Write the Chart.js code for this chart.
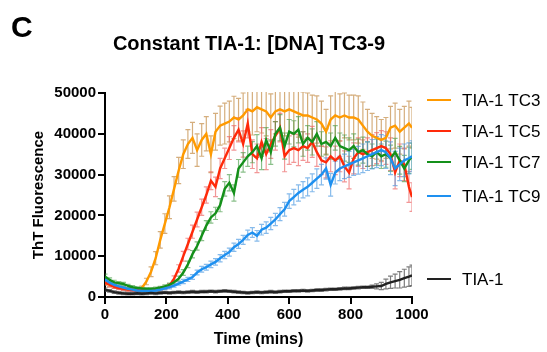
<!DOCTYPE html>
<html>
<head>
<meta charset="utf-8">
<script src="https://cdn.jsdelivr.net/npm/chart.js@4.4.1/dist/chart.umd.min.js"></script>
<style>
  html, body { margin: 0; padding: 0; background: #fff; }
  #wrap { width: 547px; height: 352px; }
</style>
</head>
<body>
<div id="wrap"><canvas id="chart" width="547" height="352"></canvas></div>
<script>
/* ── ThT kinetics: constant TIA-1, DNA TC3-9 ── */

// time points (mins)
const times = [
  0, 15, 30, 45, 60, 75, 90, 105, 120, 135,
  150, 165, 180, 195, 210, 225, 240, 255, 270, 285,
  300, 315, 330, 345, 360, 375, 390, 405, 420, 435,
  450, 465, 480, 495, 510, 525, 540, 555, 570, 585,
  600, 615, 630, 645, 660, 675, 690, 705, 720, 735,
  750, 765, 780, 795, 810, 825, 840, 855, 870, 885,
  900, 915, 930, 945, 960, 975, 990, 1000,
];

const yTicks = [0, 10000, 20000, 30000, 40000, 50000];
const xTicks = [0, 200, 400, 600, 800, 1000];

const labels = ['TIA-1 TC3', 'TIA-1 TC5', 'TIA-1 TC7', 'TIA-1 TC9', 'TIA-1'];

// mean ThT fluorescence
const tc3 = [
  3500, 3000, 2600, 2300, 2100, 1900, 1800, 1800, 2200, 3800,
  6200, 9500, 14000, 18000, 22000, 26500, 31000, 35000, 37500, 39000,
  36000, 38500, 40000, 35000, 40500, 42000, 42500, 43000, 44000, 43500,
  44500, 46000, 45500, 46500, 46000, 45500, 44000, 45500, 46000, 45500,
  46000, 45500, 45000, 44500, 44500, 44000, 43500, 42500, 40500, 43500,
  44500, 44000, 44500, 44000, 44000, 43500, 42000, 40500, 39500, 39000,
  38500, 39000, 41500, 42000, 40500, 41500, 42500, 41500,
];
const tc5 = [
  3500, 3000, 2500, 2200, 2000, 1800, 1700, 1700, 1600, 1600,
  1700, 1800, 2000, 2300, 2800, 4500, 7000, 10000, 13000, 16000,
  19000, 22000, 25000, 28500, 27000, 31500, 34000, 36500, 39000, 41000,
  37500, 42500, 35000, 34000, 38000, 35000, 37500, 39500, 41500, 34500,
  36000, 36500, 36000, 37000, 36500, 38000, 35500, 33500, 33000, 34500,
  33500, 34500, 32000, 30500, 34000, 35500, 35000, 35500, 36000, 36500,
  37000, 36500, 35000, 30500, 33500, 32500, 27000, 24500,
];
const tc7 = [
  5000, 4200, 3600, 3400, 3200, 2700, 2400, 2200, 2100, 2000,
  2000, 2100, 2300, 2600, 3000, 3600, 4500, 6000, 8000, 10500,
  12500, 15000, 17500, 19500, 20500, 22500, 26500, 28000, 25500, 31500,
  33000, 34500, 35500, 37000, 34000, 38500, 35500, 40000, 41500, 37000,
  40500, 40000, 41000, 37500, 39000, 38000, 40000, 37500, 38000, 37000,
  39000, 37000, 36500, 36000, 37000, 35500, 36000, 35000, 34500, 35500,
  34500, 35000, 34000, 35500, 33500, 31500, 33500, 34500,
];
const tc9 = [
  4300, 3500, 3000, 2600, 2300, 2000, 1800, 1600, 1500, 1500,
  1500, 1600, 1800, 2100, 2400, 2800, 3300, 3800, 4300, 4900,
  6000, 6800, 7300, 8000, 8600, 9500, 10300, 11000, 12200, 13000,
  14000, 15200, 15800, 15000, 16500, 17000, 18000, 19000, 20300, 21500,
  23500, 24500, 25500, 26300, 27000, 28000, 29000, 30000, 31500, 27500,
  30500, 31500, 32000, 32500, 33000, 33500, 34000, 34500, 35000, 35500,
  36000, 35500, 34000, 31500, 32500, 33500, 34000, 34500,
];
const tia1 = [
  1800, 1500, 1200, 1000, 900, 800, 800, 900, 800, 900,
  1000, 900, 1000, 1100, 1000, 1100, 1200, 1100, 1200, 1300,
  1200, 1300, 1300, 1400, 1300, 1400, 1500, 1400, 1300, 1200,
  1100, 1000, 1100, 1200, 1100, 1200, 1300, 1200, 1300, 1400,
  1400, 1500, 1500, 1600, 1500, 1600, 1700, 1700, 1800, 1900,
  1900, 2000, 2100, 2100, 2200, 2300, 2400, 2400, 2500, 2600,
  2700, 3200, 3600, 3900, 4200, 4600, 5000, 5300,
];

// error (± SD)
const tc3Err = [
  600, 500, 500, 400, 400, 400, 400, 400, 500, 800,
  1200, 1600, 2000, 2400, 2800, 3000, 3200, 3500, 3500, 3800,
  4000, 4000, 4200, 4500, 4500, 4800, 5000, 5000, 5200, 5200,
  5500, 5500, 5800, 6000, 5800, 6000, 5800, 5500, 5800, 6000,
  5800, 5500, 5800, 5800, 5500, 5500, 5800, 5500, 5500, 5800,
  6000, 5800, 5500, 5500, 5500, 5800, 5800, 5500, 5500, 5200,
  5000, 5000, 5200, 5500, 5500, 5200, 5500, 5000,
];
const tc5Err = [
  500, 500, 400, 400, 400, 400, 300, 300, 300, 300,
  300, 300, 400, 400, 500, 700, 900, 1200, 1400, 1600,
  1800, 2000, 2000, 2200, 2400, 2500, 2500, 2800, 3000, 3000,
  3200, 3500, 3500, 3500, 3500, 3800, 3500, 3500, 3500, 3800,
  3500, 3500, 3800, 3500, 3500, 3800, 3500, 3500, 3800, 3800,
  3500, 3800, 3800, 4000, 3800, 3500, 3500, 3500, 3800, 3800,
  3800, 4000, 4000, 4000, 4000, 4000, 3800, 3500,
];
const tc7Err = [
  600, 500, 500, 400, 400, 400, 400, 300, 300, 300,
  300, 300, 300, 400, 400, 500, 600, 700, 800, 900,
  1000, 1200, 1200, 1400, 1500, 1600, 1800, 2000, 2000, 2200,
  2400, 2500, 2600, 2800, 2800, 3000, 3000, 3000, 3200, 3200,
  3000, 3200, 3200, 3000, 3000, 3200, 3000, 3000, 3200, 3200,
  3000, 3200, 3200, 3000, 3000, 3200, 3200, 3000, 3000, 3200,
  3000, 3200, 3200, 3400, 3400, 3200, 3200, 3200,
];
const tc9Err = [
  500, 400, 400, 300, 300, 300, 300, 300, 300, 300,
  300, 300, 300, 300, 400, 400, 400, 500, 500, 600,
  600, 700, 700, 800, 800, 900, 900, 1000, 1000, 1100,
  1100, 1200, 1200, 1300, 1300, 1400, 1500, 1500, 1600, 1700,
  1800, 1900, 2000, 2000, 2200, 2200, 2400, 2500, 2600, 2800,
  2800, 3000, 3000, 3200, 3200, 3400, 3500, 3500, 3600, 3800,
  3800, 4000, 4000, 4200, 4000, 4000, 3800, 3800,
];
const tia1Err = [
  400, 300, 300, 300, 300, 300, 300, 300, 300, 300,
  300, 300, 300, 300, 300, 300, 300, 300, 300, 300,
  300, 300, 300, 300, 300, 300, 300, 300, 300, 300,
  300, 300, 300, 300, 300, 300, 300, 300, 300, 300,
  300, 300, 300, 300, 300, 300, 300, 300, 300, 300,
  300, 300, 300, 300, 300, 300, 300, 300, 400, 600,
  900, 1200, 1500, 1700, 2000, 2200, 2400, 2500,
];

const FONT = '"Liberation Sans", Arial, Helvetica, sans-serif';

const pts = (arr) => times.map((t, i) => ({ x: t, y: arr[i] }));

function series(idx, arr, err, color, errColor, order) {
  return {
    label: labels[idx],
    data: pts(arr),
    errors: err,
    errColor,
    borderColor: color,
    backgroundColor: color,
    borderWidth: 2.4,
    pointRadius: 0,
    tension: 0,
    fill: false,
    order,
  };
}

// error bars drawn under the lines, from the chart's own scales
const errorBars = {
  id: 'errorBars',
  beforeDatasetsDraw(chart) {
    const { ctx, chartArea: a, scales: { x, y } } = chart;
    ctx.save();
    ctx.beginPath();
    ctx.rect(a.left, a.top - 1, a.right - a.left, a.bottom - a.top + 1);
    ctx.clip();
    ctx.lineWidth = 1.2;
    chart.data.datasets.forEach((ds) => {
      ctx.strokeStyle = ds.errColor;
      ds.data.forEach((p, i) => {
        const e = ds.errors[i];
        const px = x.getPixelForValue(p.x);
        const y1 = y.getPixelForValue(p.y - e);
        const y2 = y.getPixelForValue(p.y + e);
        ctx.beginPath();
        ctx.moveTo(px, y1); ctx.lineTo(px, y2);
        ctx.moveTo(px - 2.5, y1); ctx.lineTo(px + 2.5, y1);
        ctx.moveTo(px - 2.5, y2); ctx.lineTo(px + 2.5, y2);
        ctx.stroke();
      });
    });
    ctx.restore();
  },
};

// panel letter, title and Prism-style legend
const decor = {
  id: 'decor',
  afterDraw(chart) {
    const { ctx } = chart;
    ctx.save();
    ctx.fillStyle = '#000';
    ctx.textBaseline = 'alphabetic';
    ctx.textAlign = 'left';
    ctx.font = `bold 30px ${FONT}`;
    ctx.fillText('C', 11, 37);
    ctx.textAlign = 'center';
    ctx.font = `bold 20px ${FONT}`;
    ctx.fillText('Constant TIA-1: [DNA] TC3-9', 249, 50);

    const rows = [100, 131, 162, 196, 279];
    ctx.textAlign = 'left';
    ctx.textBaseline = 'middle';
    ctx.font = `17px ${FONT}`;
    chart.data.datasets.forEach((ds, i) => {
      const ry = rows[i];
      ctx.strokeStyle = ds.borderColor;
      ctx.lineWidth = 2;
      ctx.beginPath();
      ctx.moveTo(427, ry); ctx.lineTo(451, ry);
      ctx.stroke();
      ctx.fillStyle = '#000';
      ctx.fillText(ds.label, 462, ry + 1);
    });
    ctx.restore();
  },
};

const tickFont = { family: FONT, size: 15, weight: 'bold' };

new Chart(document.getElementById('chart'), {
  type: 'line',
  data: {
    datasets: [
      series(0, tc3, tc3Err, '#ff9a00', 'rgba(195,140,70,0.7)', 5),
      series(1, tc5, tc5Err, '#ff2a0a', 'rgba(235,95,95,0.65)', 4),
      series(2, tc7, tc7Err, '#14901a', 'rgba(60,150,60,0.6)', 3),
      series(3, tc9, tc9Err, '#1e90f0', 'rgba(70,150,225,0.65)', 2),
      series(4, tia1, tia1Err, '#222222', 'rgba(70,70,70,0.7)', 1),
    ],
  },
  options: {
    responsive: false,
    animation: false,
    devicePixelRatio: 1,
    layout: { padding: { left: 0, right: 135, top: 93, bottom: 0 } },
    plugins: {
      legend: { display: false },
      title: { display: false },
      tooltip: { enabled: false },
    },
    scales: {
      x: {
        type: 'linear',
        min: 0,
        max: 1000,
        afterBuildTicks: (s) => { s.ticks = xTicks.map(v => ({ value: v })); },
        afterFit: (s) => { s.height = 55; },
        ticks: { color: '#000', font: tickFont, padding: 2, maxRotation: 0, callback: (v) => String(v) },
        grid: { display: true, drawOnChartArea: false, drawTicks: true, tickLength: 7, color: '#000', lineWidth: 2 },
        border: { display: true, color: '#000', width: 2 },
        title: {
          display: true, text: 'Time (mins)', color: '#000',
          font: { family: FONT, size: 16, weight: 'bold' },
          padding: { top: 0, bottom: 3 },
        },
      },
      y: {
        min: 0,
        max: 50000,
        afterBuildTicks: (s) => { s.ticks = yTicks.map(v => ({ value: v })); },
        afterFit: (s) => { s.width = 105; },
        ticks: { color: '#000', font: tickFont, padding: 2, callback: (v) => String(v) },
        grid: { display: true, drawOnChartArea: false, drawTicks: true, tickLength: 7, color: '#000', lineWidth: 2 },
        border: { display: true, color: '#000', width: 2 },
        title: {
          display: true, text: 'ThT Fluorescence', color: '#000',
          font: { family: FONT, size: 15, weight: 'bold' },
          padding: { top: 30, bottom: 0 },
        },
      },
    },
  },
  plugins: [errorBars, decor],
});
</script>
</body>
</html>
